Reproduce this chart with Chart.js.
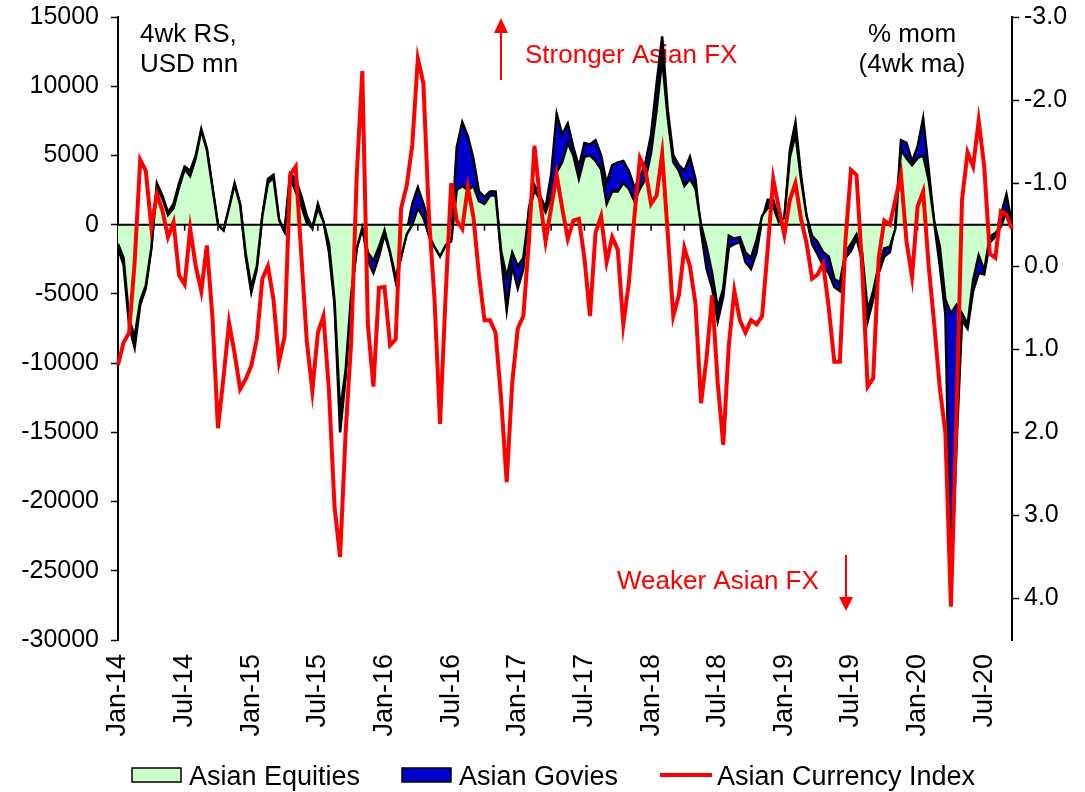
<!DOCTYPE html>
<html>
<head>
<meta charset="utf-8">
<script src="https://cdn.jsdelivr.net/npm/chart.js@4/dist/chart.umd.min.js"></script>
<style>
  html, body { margin: 0; padding: 0; background: #fff; }
</style>
</head>
<body>
<canvas id="flows" width="1085" height="792"></canvas>
<script>
"use strict";

// half-monthly readings, Jan-14 to Sep-20 (4wk rolling sum, USD mn)
const equities = [
  -1400, -2400, -6800, -8100, -5500, -4400, -1700, 2700, 1900, 700, 1200, 2700,
  4000, 3500, 4800, 6800, 5400, 2700, 0, -400, 1200, 2900, 1400, -2100,
  -4500, -3000, 650, 3000, 3400, 350, -500, 3400, 2400, 1400, 150, -250,
  1200, 200, -1400, -5500, -13500, -10500, -5000, -1700, -250, -2000, -2600, -1600,
  -400, -2000, -3800, -2300, -700, 0, 1200, 500, -800, -1600, -2300, -1500,
  -1200, 2500, 2800, 2500, 2800, 1700, 1500, 2100, 2100, -1900, -3800, -2000,
  -3000, -2400, 900, 2500, 1800, 900, 2000, 3800, 4500, 5900, 5000, 3300,
  4900, 5000, 4600, 4000, 1500, 2400, 2400, 3000, 2600, 1700, 2600, 3300,
  5200, 8300, 12000, 7700, 4500, 3900, 2800, 3300, 2600, 0, -1600, -3500,
  -6000, -4600, -800, -1000, -900, -2000, -2400, -1100, 650, 1200, 1300, 200,
  500, 4900, 6500, 3300, 650, -800, -1250, -2000, -2300, -3900, -4200, -2000,
  -1400, -700, -2000, -6200, -4800, -2900, -1700, -1600, -300, 5400, 4800, 4300,
  4800, 5000, 3200, 200, -1600, -5400, -6400, -5800, -6400, -7200, -4000, -2200,
  -3300, -850, -600, -150, 1000, -100
];

const govies = [
  -300, -500, -500, -800, -300, -200, 0, 300, 200, 200, 300, 300,
  200, 400, 200, 100, 100, 0, 0, 0, 0, 100, 100, -200,
  -400, -200, 0, 300, 200, 0, 0, 300, 900, 700, 500, 0,
  300, 0, -600, -300, -1500, -500, -200, 0, 0, -600, -900, -700,
  -300, 0, -300, 0, 200, 1500, 1500, 1000, 1000, 200, 200, 200,
  200, 3100, 4600, 3900, 2000, 700, 500, 300, 300, -400, -2400, -1000,
  -1600, -800, 300, 350, 300, 300, 1600, 4200, 2000, 1400, 600, 900,
  1000, 800, 1500, 1000, 1500, 1900, 2100, 1600, 1300, 1000, 800, 1200,
  1300, 1900, 1600, 600, 500, 400, 1100, 1600, 700, -500, -1600, -1100,
  -1000, -600, -850, -400, -350, -700, -800, -900, -300, 600, 500, 150,
  -150, 500, 900, 300, -150, -600, -900, -1000, -1200, -600, -600, -400,
  -500, -300, -600, -800, -600, -600, -600, -400, 400, 700, 1100, 250,
  850, 2700, 750, -100, -1400, -1100, -20100, -10200, -500, -300, -800, -1300,
  -300, -450, -250, 850, 1200, 100
];

// % mom, 4wk ma (right axis, inverted)
const currency = [
  1.19, 0.92, 0.8, -0.05, -1.28, -1.15, -0.47, -0.87, -0.67, -0.35, -0.53, 0.11,
  0.22, -0.45, 0.0, 0.3, -0.25, 0.6, 1.95, 1.34, 0.68, 1.05, 1.48, 1.36,
  1.2, 0.88, 0.15, 0.0, 0.4, 1.15, 0.85, -1.1, -1.2, -0.15, 0.9, 1.5,
  0.8, 0.6, 1.5, 2.9, 3.5, 2.0, 0.9, -1.1, -2.35, 0.7, 1.45, 0.26,
  0.25, 0.95, 0.88, -0.7, -0.97, -1.46, -2.5, -2.2, -0.6, 0.4, 1.9, 0.36,
  -1.0, -0.55, -0.45, -0.95, -0.6, 0.1, 0.65, 0.65, 0.8, 1.6, 2.6, 1.4,
  0.75, 0.6, -0.3, -1.45, -0.8, -0.3, -0.7, -1.1, -0.7, -0.33, -0.55, -0.57,
  -0.1, 0.6, -0.4, -0.6, -0.05, -0.35, -0.2, 0.7, 0.2, -0.6, -1.3, -1.15,
  -0.75, -0.85, -1.35, -0.4, 0.6, 0.35, -0.22, 0.0, 0.45, 1.65, 1.1, 0.35,
  1.4, 2.15, 0.95, 0.3, 0.65, 0.8, 0.65, 0.7, 0.6, -0.2, -1.05, -0.7,
  -0.38, -0.8, -1.0, -0.57, -0.28, 0.15, 0.1, -0.03, 0.5, 1.15, 1.15, -0.3,
  -1.16, -1.1, 0.0, 1.45, 1.35, -0.1, -0.55, -0.5, -0.8, -1.1, -0.3, 0.13,
  -0.72, -0.9, 0.0, 0.7, 1.47, 2.0, 4.1, 1.8, -0.8, -1.37, -1.2, -1.75,
  -1.2, -0.15, -0.1, -0.66, -0.62, -0.45
];

const tickLabels = [
  "Jan-14", "Jul-14", "Jan-15", "Jul-15", "Jan-16", "Jul-16", "Jan-17",
  "Jul-17", "Jan-18", "Jul-18", "Jan-19", "Jul-19", "Jan-20", "Jul-20"
];

// one category per half month starting Jan 2014
const periods = [];
for (let i = 0; i < equities.length; i++) {
  const yr = 2014 + Math.floor(i / 24);
  const mo = Math.floor((i % 24) / 2) + 1;
  periods.push(yr + "-" + String(mo).padStart(2, "0") + (i % 2 ? "-16" : "-01"));
}

const FONT = "'Liberation Sans', Arial, sans-serif";

const legendItems = [
  { label: "Asian Equities", x: 132, kind: "box" },
  { label: "Asian Govies", x: 402, kind: "box" },
  { label: "Asian Currency Index", x: 660, kind: "line" }
];

// keep the plot top at 17px whatever the tick label padding is
const fixVertical = (width) => (s) => {
  s.width = width;
  s.paddingTop = 17;
  s.paddingBottom = 0;
};

const extras = {
  id: "extras",
  beforeDatasetsDraw(chart) {
    const { ctx, scales: { x, y } } = chart;
    const y0 = y.getPixelForValue(0);
    ctx.save();
    // quarterly ticks hanging off the zero line
    ctx.strokeStyle = "#000";
    ctx.lineWidth = 1.5;
    for (let i = 0; i < periods.length; i += 6) {
      const px = x.getPixelForValue(i);
      ctx.beginPath();
      ctx.moveTo(px, y0);
      ctx.lineTo(px, y0 + 6);
      ctx.stroke();
    }

    ctx.font = "26px " + FONT;
    ctx.fillStyle = "#000";
    ctx.textAlign = "left";
    ctx.fillText("4wk RS,", 140, 42);
    ctx.fillText("USD mn", 140, 72);
    ctx.textAlign = "center";
    ctx.fillText("% mom", 912, 42);
    ctx.fillText("(4wk ma)", 912, 72);

    ctx.fillStyle = "#ff0000";
    ctx.strokeStyle = "#ff0000";
    ctx.textAlign = "left";
    ctx.fillText("Stronger Asian FX", 525, 63);
    ctx.fillText("Weaker Asian FX", 617, 589);

    // arrows
    ctx.lineWidth = 2;
    ctx.beginPath();
    ctx.moveTo(501, 80);
    ctx.lineTo(501, 30);
    ctx.moveTo(846, 555);
    ctx.lineTo(846, 600);
    ctx.stroke();
    ctx.beginPath();
    ctx.moveTo(494, 33);
    ctx.lineTo(508, 33);
    ctx.lineTo(501, 18);
    ctx.closePath();
    ctx.moveTo(839, 597);
    ctx.lineTo(853, 597);
    ctx.lineTo(846, 611);
    ctx.closePath();
    ctx.fill();
    ctx.restore();
  },
  afterDatasetDraw(chart, args) {
    if (args.index !== 0) return;
    const { ctx, chartArea, scales: { y } } = chart;
    const y0 = y.getPixelForValue(0);
    ctx.save();
    ctx.strokeStyle = "#000";
    ctx.lineWidth = 2;
    ctx.beginPath();
    ctx.moveTo(chartArea.left, y0);
    ctx.lineTo(chartArea.right, y0);
    ctx.stroke();
    ctx.restore();
  },
  afterDraw(chart) {
    const { ctx } = chart;
    const sets = chart.data.datasets;
    ctx.save();
    ctx.font = "27px " + FONT;
    ctx.textAlign = "left";
    legendItems.forEach((item, i) => {
      const ds = sets[i];
      if (item.kind === "box") {
        ctx.fillStyle = ds.backgroundColor;
        ctx.fillRect(item.x, 768, 49, 14);
        ctx.strokeStyle = "#000";
        ctx.lineWidth = 1.5;
        ctx.strokeRect(item.x, 768, 49, 14);
      } else {
        ctx.strokeStyle = ds.borderColor;
        ctx.lineWidth = 4;
        ctx.beginPath();
        ctx.moveTo(item.x, 775);
        ctx.lineTo(item.x + 52, 775);
        ctx.stroke();
      }
      ctx.fillStyle = "#000";
      ctx.fillText(item.label, item.x + 57, 785);
    });
    ctx.restore();
  }
};

new Chart(document.getElementById("flows"), {
  type: "line",
  data: {
    labels: periods,
    datasets: [
      {
        label: "Asian Equities",
        data: equities,
        yAxisID: "y",
        order: 1,
        fill: "origin",
        backgroundColor: "#ccffcc",
        borderColor: "#000000",
        borderWidth: 2.5,
        pointRadius: 0,
        tension: 0
      },
      {
        label: "Asian Govies",
        data: govies,
        yAxisID: "y",
        order: 2,
        fill: "-1",
        backgroundColor: "#0000cc",
        borderColor: "#000000",
        borderWidth: 2.5,
        pointRadius: 0,
        tension: 0
      },
      {
        label: "Asian Currency Index",
        data: currency,
        yAxisID: "y1",
        order: 0,
        fill: false,
        borderColor: "#ff0000",
        backgroundColor: "#ff0000",
        borderWidth: 4,
        pointRadius: 0,
        tension: 0
      }
    ]
  },
  options: {
    responsive: false,
    animation: false,
    devicePixelRatio: 1,
    layout: { padding: 0 },
    plugins: {
      legend: { display: false },
      tooltip: { enabled: false }
    },
    scales: {
      x: {
        type: "category",
        offset: false,
        grid: { display: false, drawTicks: false },
        border: { display: false },
        ticks: {
          autoSkip: false,
          minRotation: 90,
          maxRotation: 90,
          padding: 14,
          color: "#000",
          font: { family: FONT, size: 27 },
          callback: (v, i) => (i % 12 === 0 ? tickLabels[i / 12] : "")
        },
        afterFit: (s) => { s.height = 152; }
      },
      y: {
        position: "left",
        stacked: "single",
        min: -30000,
        max: 15000,
        ticks: {
          stepSize: 5000,
          padding: 12,
          color: "#000",
          font: { family: FONT, size: 25 },
          callback: (v) => String(v)
        },
        grid: { drawOnChartArea: false, tickLength: 7, tickColor: "#000", tickWidth: 1.5 },
        border: { color: "#000", width: 2 },
        afterFit: fixVertical(118)
      },
      y1: {
        position: "right",
        reverse: true,
        min: -3,
        max: 4.5,
        ticks: {
          stepSize: 1,
          includeBounds: false,
          padding: 5,
          color: "#000",
          font: { family: FONT, size: 25 },
          callback: (v) => v.toFixed(1)
        },
        grid: { drawOnChartArea: false, tickLength: 7, tickColor: "#000", tickWidth: 1.5 },
        border: { color: "#000", width: 2 },
        afterFit: fixVertical(73)
      }
    }
  },
  plugins: [extras]
});
</script>
</body>
</html>
